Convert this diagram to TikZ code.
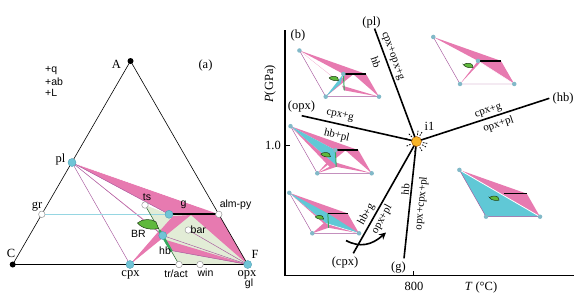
\documentclass[tikz,border=0pt]{standalone}
\usepackage{fontspec}
\setmainfont{Liberation Serif}
\newfontfamily\sfA{Liberation Sans}
\usetikzlibrary{arrows.meta}
\definecolor{pinkA}{RGB}{231,122,176}
\definecolor{cyanA}{RGB}{96,200,214}
\definecolor{lgreen}{RGB}{226,236,214}
\definecolor{purp}{RGB}{165,85,155}
\definecolor{dotblue}{RGB}{112,196,214}
\definecolor{dotedge}{RGB}{80,160,180}
\definecolor{leafg}{RGB}{95,185,60}
\definecolor{leafd}{RGB}{30,60,20}
\definecolor{hbg}{RGB}{55,170,95}
\definecolor{dgreen}{RGB}{50,110,60}
\definecolor{lcyan}{RGB}{150,214,226}
\definecolor{orangeA}{RGB}{247,180,40}
\definecolor{sdotc}{RGB}{130,185,200}
\tikzset{
 bdot/.style={circle, fill=dotblue, draw=dotedge, line width=0.4pt, inner sep=0pt, minimum size=8pt},
 wdot/.style={circle, fill=white, draw=gray!80, line width=0.5pt, inner sep=0pt, minimum size=6.5pt},
 kdot/.style={circle, fill=black, inner sep=0pt, minimum size=6pt},
 sdot/.style={circle, fill=sdotc, inner sep=0pt, minimum size=4.5pt},
 odot/.style={circle, fill=orangeA, draw=orange!60!black, line width=0.4pt, inner sep=0pt, minimum size=10pt},
 rlab/.style={font=\fontsize{12.5}{12.5}\selectfont, inner sep=0pt},
 llab/.style={font=\fontsize{11}{11}\selectfont, inner sep=0pt},
 slab/.style={font=\sfA\fontsize{10.5}{10.5}\selectfont, inner sep=0pt},
 uvline/.style={line width=1.6pt},
 pedge/.style={purp, line width=0.45pt},
}
\newcommand\defpts{%
 \coordinate (Xpl) at (72,162.5);
 \coordinate (Xcpx) at (130,264.5);
 \coordinate (XF) at (247.7,264.5);
 \coordinate (Xg) at (169,214.3);
 \coordinate (Xal) at (218.8,214.3);
 \coordinate (Xhb) at (162.7,235.5);
 \coordinate (Xts) at (145,205);
 \coordinate (Xtr) at (179,264.5);
 \coordinate (Xga) at (173,216);
 \coordinate (Xgb) at (191,215);
 \coordinate (Xh1) at (166,240);
 \coordinate (Xh2) at (171,250.5);
 \coordinate (Xp1) at (156,229);
 \coordinate (Xp2) at (161,233.5);
 \coordinate (Xc1) at (158,232);
 \coordinate (Xc2) at (161,238);
}
\newcommand\leafshape{\filldraw[fill=leafg, draw=leafd, line width=0.5pt] (137.5,223) .. controls (142,218.5) and (152,218.5) .. (156,222) -- (158.5,228.5) .. controls (152,230) and (142,229) .. cycle;}
\newcommand\insetdots{%
 \node[sdot] at (Xpl) {};
 \node[sdot] at (Xcpx) {};
 \node[sdot] at (XF) {};
}
\begin{document}
\begin{tikzpicture}[x=1pt,y=-1pt]
\useasboundingbox (0,0) rectangle (583,300);
% ================= panel (a) =================
\defpts
\coordinate (cA) at (130.5,61);
\coordinate (cC) at (12.7,264.5);
\coordinate (cF) at (247.7,264.5);
\coordinate (cpl) at (72,162.5);
\coordinate (cgr) at (41.8,214.3);
\coordinate (ccpx) at (130,264.5);
\coordinate (ctr) at (179,264.5);
\coordinate (cwin) at (200,264.5);
\coordinate (cts) at (145,205);
\coordinate (cg) at (169,214.3);
\coordinate (cal) at (218.8,214.3);
\coordinate (cbar) at (188.3,230);
\coordinate (chb) at (162.7,235.5);
\coordinate (hbA) at (159.3,230.2);
\coordinate (hbB) at (171.5,251.3);
\fill[lgreen] (cts) -- (cg) -- (205,214.3) -- (cF) -- (ctr) -- cycle;
\fill[pinkA] (Xpl) -- (Xal) -- (Xg) -- cycle;
\fill[pinkA] (Xgb) -- (Xal) -- (XF) -- cycle;
\fill[pinkA] (Xga) -- (Xgb) -- (Xcpx) -- cycle;
\fill[pinkA] (Xh1) -- (Xh2) -- (XF) -- cycle;
\fill[pinkA] (Xpl) -- (Xp1) -- (Xp2) -- cycle;
\fill[pinkA] (Xcpx) -- (Xc1) -- (Xc2) -- cycle;
\draw[white, line width=0.5pt] (cpl) -- (200,207);
\draw[pedge] (cpl) -- (ccpx);
\draw[pedge] (cpl) -- (cg);
\draw[pedge] (cpl) -- (chb);
\draw[pedge] (chb) -- (cF);
\draw[pedge] (cbar) -- (cF);
\draw[pedge] (Xh2) -- (cF);
\draw[line width=0.6pt] (cA) -- (cC) -- (cF) -- cycle;
\draw[lcyan, line width=0.8pt] (cgr) -- (cg);
\draw[line width=2.2pt] (cg) -- (cal);
\draw[dgreen, line width=0.6pt] (cts) -- (ctr);
\draw[hbg, line width=2.6pt] (hbA) -- (hbB);
\leafshape
\node[kdot] (A) at (cA) {};
\node[kdot] (C) at (cC) {};
\node[bdot] (pl) at (cpl) {};
\node[bdot] (cpx) at (ccpx) {};
\node[bdot] (F) at (cF) {};
\node[bdot] (g) at (cg) {};
\node[bdot] (hb) at (chb) {};
\node[wdot] (gr) at (cgr) {};
\node[wdot] (ts) at (cts) {};
\node[wdot] (almpy) at (cal) {};
\node[wdot] (bar) at (cbar) {};
\node[wdot] (tract) at (ctr) {};
\node[wdot] (win) at (cwin) {};
% labels (a)
\node[slab, anchor=west] (lq) at (45,71) {+q};
\node[slab, anchor=west] (lab) at (45,81.5) {+ab};
\node[slab, anchor=west] (lL) at (45,92.5) {+L};
\node[rlab] (tA) at (116.5,64) {A};
\node[rlab] (ta) at (205.5,65) {(a)};
\node[rlab] (tpl) at (60.5,159.5) {pl};
\node[rlab] (tgr) at (37,206.5) {gr};
\node[rlab] (tC) at (11,253) {C};
\node[rlab] (tcpx) at (130.5,274.5) {cpx};
\node[slab] (ttr) at (176,273.5) {tr/act};
\node[slab] (twin) at (205.5,273) {win};
\node[rlab] (topx) at (247,274.5) {opx};
\node[slab] (tgl) at (249,283.5) {gl};
\node[rlab] (tF) at (255,254.5) {F};
\node[slab] (tts) at (147,197.5) {ts};
\node[slab] (tg) at (183.5,205) {g};
\node[slab] (tal) at (235.5,205) {alm-py};
\node[slab, anchor=west] (tbar) at (190.5,229.5) {bar};
\node[slab] (tBR) at (138.5,234) {BR};
\node[slab] (thb) at (165,251) {hb};
% ================= panel (b) =================
\draw[line width=1.3pt] (285,30) -- (285,275.5) -- (574,275.5);
\coordinate (tk8a) at (413.3,275);
\coordinate (tk8b) at (413.3,271);
\draw[line width=0.6pt] (tk8a) -- (tk8b);
\coordinate (tk1a) at (285,145);
\coordinate (tk1b) at (289.5,145);
\draw[line width=0.6pt] (tk1a) -- (tk1b);
\node[rlab] (t800) at (414,286) {800};
\node[rlab] (tT) at (481,287) {\textit{T} (°C)};
\node[rlab] (t10) at (273,145) {1.0};
\node[rlab, rotate=90] (tP) at (270,84) {\textit{P}(GPa)};
\node[rlab] (tb) at (298,35) {(b)};
% insets
\begin{scope}[shift={(325.7,96.7)}, scale=0.453, shift={(-130,-264.5)}]
\defpts
\fill[pinkA] (Xpl) -- (Xal) -- (Xg) -- cycle;
\fill[pinkA] (Xgb) -- (Xal) -- (XF) -- cycle;
\fill[pinkA] (Xga) -- (Xgb) -- (Xcpx) -- cycle;
\fill[pinkA] (Xh1) -- (Xh2) -- (XF) -- cycle;
\fill[pinkA] (Xpl) -- (Xp1) -- (Xp2) -- cycle;
\fill[cyanA] (Xg) -- (Xhb) -- (Xcpx) -- cycle;
\draw[pedge] (Xpl) -- (Xcpx) -- (XF);
\draw[hbg, line width=1pt] (Xg) -- (Xh2);
\draw[line width=1.3pt] (Xg) -- (Xal);
\leafshape
\insetdots
\node[sdot] at (Xg) {};
\end{scope}
\begin{scope}[shift={(460,84)}, scale=0.461, shift={(-130,-264.5)}]
\defpts
\fill[pinkA] (Xpl) -- (Xal) -- (XF) -- (Xg) -- cycle;
\fill[pinkA] (Xg) -- (177,214.3) -- (Xcpx) -- cycle;
\draw[white, line width=0.5pt] (Xg) -- (XF);
\draw[pedge] (Xpl) -- (Xcpx) -- (XF);
\draw[line width=1.3pt] (Xg) -- (Xal);
\leafshape
\insetdots
\node[sdot] at (Xg) {};
\end{scope}
\begin{scope}[shift={(317.3,173.3)}, scale=0.462, shift={(-130,-264.5)}]
\defpts
\fill[pinkA] (Xpl) -- (Xal) -- (Xg) -- cycle;
\fill[pinkA] (Xgb) -- (Xal) -- (XF) -- cycle;
\fill[pinkA] (Xga) -- (Xgb) -- (Xcpx) -- cycle;
\fill[pinkA] (Xh1) -- (Xh2) -- (XF) -- cycle;
\fill[pinkA] (Xpl) -- (171,247) -- (158,252) -- cycle;
\fill[pinkA] (Xcpx) -- (Xh2) -- (168,244) -- cycle;
\fill[cyanA] (Xpl) -- (Xg) -- (171,247) -- cycle;
\draw[pedge] (Xpl) -- (Xcpx) -- (XF);
\draw[hbg, line width=1pt] (Xg) -- (Xh2);
\draw[line width=1.3pt] (Xg) -- (Xal);
\leafshape
\insetdots
\node[sdot] at (Xg) {};
\end{scope}
\begin{scope}[shift={(312.3,233.3)}, scale=0.397, shift={(-130,-264.5)}]
\defpts
\fill[pinkA] (Xpl) -- (Xal) -- (XF) -- cycle;
\fill[pinkA] (Xpl) -- (Xh1) -- (Xh2) -- cycle;
\fill[pinkA] (Xcpx) -- (Xhb) -- (Xh2) -- cycle;
\fill[pinkA] (Xh1) -- (Xh2) -- (XF) -- cycle;
\fill[cyanA] (Xpl) -- (Xg) -- (XF) -- (Xh1) -- cycle;
\draw[white, line width=0.5pt] (Xh1) -- (XF);
\draw[pedge] (Xpl) -- (Xcpx) -- (XF);
\draw[hbg, line width=1pt] (Xg) -- (Xh2);
\draw[line width=1.3pt] (Xg) -- (Xal);
\leafshape
\insetdots
\end{scope}
\begin{scope}[shift={(486,216.7)}, scale=0.459, shift={(-130,-264.5)}]
\defpts
\fill[pinkA] (Xpl) -- (Xal) -- (XF) -- cycle;
\fill[cyanA] (Xpl) -- (XF) -- (Xcpx) -- cycle;
\draw[white, line width=0.8pt] (Xpl) -- (XF);
\draw[pedge] (Xpl) -- (Xcpx) -- (XF);
\draw[line width=1.3pt] (Xg) -- (Xal);
\leafshape
\insetdots
\end{scope}
% univariant lines
\coordinate (ci1) at (416.5,141.5);
\coordinate (Epl) at (374.5,28.5);
\coordinate (Eopx) at (301.7,115.7);
\coordinate (Ehb) at (549.3,98.3);
\coordinate (Ecpx) at (353.3,253.3);
\coordinate (Eg) at (404,258.3);
\draw[uvline] (ci1) -- (Epl);
\draw[uvline] (ci1) -- (Eopx);
\draw[uvline] (ci1) -- (Ehb);
\draw[uvline] (ci1) -- (Ecpx);
\draw[uvline] (ci1) -- (Eg);
\foreach \a in {-60,-82,10,30,60,100,155,195,225}
  \draw[line width=0.8pt, dash pattern=on 1.6pt off 1.2pt] ([shift={(\a:6.5)}]ci1) -- ([shift={(\a:12)}]ci1);
\node[odot] (i1) at (ci1) {};
\node[rlab] (ti1) at (429.5,126.5) {i1};
\node[rlab] (Lpl) at (371.5,22) {(pl)};
\node[rlab] (Lopx) at (301.5,106) {(opx)};
\node[rlab] (Lhb) at (563,98.5) {(hb)};
\node[rlab] (Lcpx) at (345,262) {(cpx)};
\node[rlab] (Lg) at (398.5,268) {(g)};
\node[llab, rotate=-70] (s1) at (392.5,56) {cpx+opx+g};
\node[llab, rotate=-70] (s2) at (376,62) {hb};
\node[llab, rotate=-12.7] (s3) at (340,115.5) {cpx+g};
\node[llab, rotate=-12.7] (s4) at (336.7,135.5) {hb+pl};
\node[llab, rotate=18] (s5) at (488.3,111) {cpx+g};
\node[llab, rotate=18] (s6) at (498.5,124.5) {opx+pl};
\node[llab, rotate=60.6] (s7) at (366.5,214.5) {hb+g};
\node[llab, rotate=60.6] (s8) at (382,219.5) {opx+pl};
\node[llab, rotate=84] (s9) at (405.5,189.3) {hb};
\node[llab, rotate=84] (s10) at (421.5,203.3) {opx+cpx+pl};
\coordinate (arS) at (346,240.5);
\coordinate (arE) at (386,232.5);
\draw[line width=1.6pt, -{Stealth[length=7pt,width=7pt]}] (arS) .. controls (360,248) and (372,245) .. (arE);
\end{tikzpicture}
\end{document}
